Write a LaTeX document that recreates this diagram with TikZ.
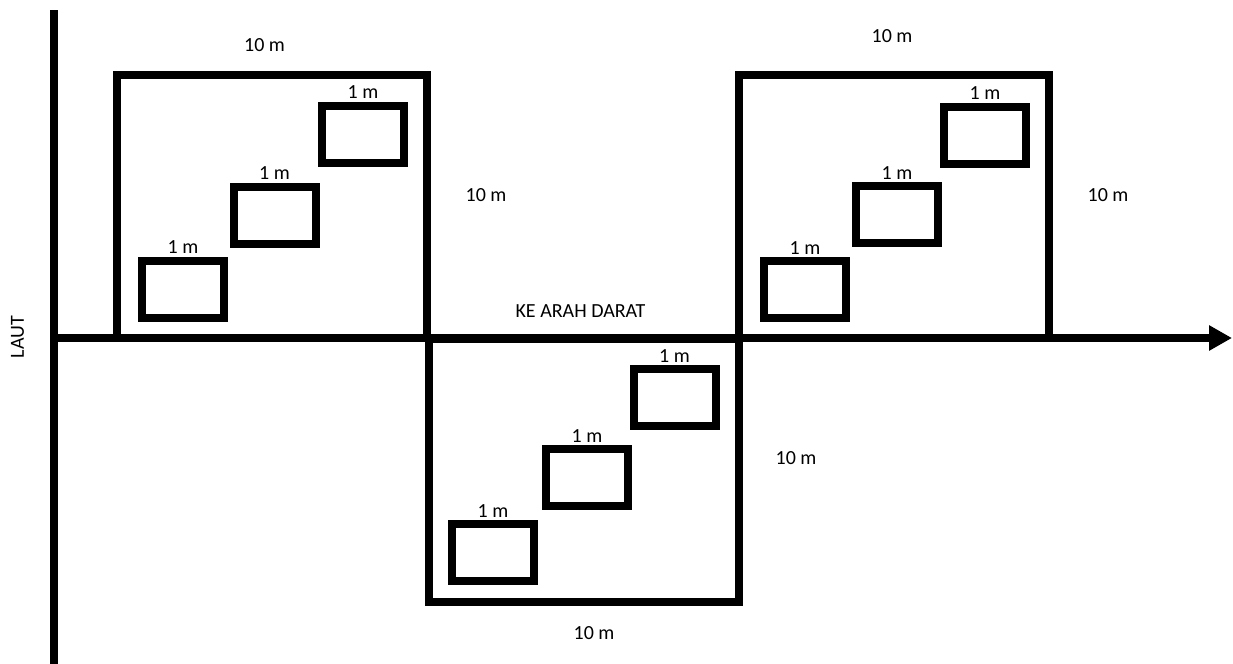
\documentclass[tikz,border=0pt]{standalone}
\usepackage{fontspec}
\setmainfont{Carlito}
\usetikzlibrary{arrows.meta,positioning}

\begin{document}
\begin{tikzpicture}[
  x=0.5pt,y=-0.5pt,
  every node/.style={font=\fontsize{10}{12}\selectfont},
  plotbox/.style={draw,line width=4pt,minimum width=155pt,minimum height=131.5pt,inner sep=0pt},
  quadbox/.style={draw,line width=4pt,minimum width=41pt,minimum height=28.5pt,inner sep=0pt,
                  label={[inner sep=1.5pt,outer sep=0pt]above:1 m}},
  axisline/.style={line width=4pt},
]
  \useasboundingbox (0,0) rectangle (1233,664);

  % Axes
  \coordinate (top) at (54,10);
  \coordinate (bottom) at (54,664);
  \coordinate (origin) at (54,338);
  \coordinate (land) at (1232,338);
  \draw[axisline] (top) -- (bottom);
  \draw[axisline,-{Triangle[length=11.5pt,width=12pt]}] (origin) -- (land);
  \node[rotate=90] (laut) at (17.5,337) {LAUT};
  \node (darat) at (580.5,311.5) {KE ARAH DARAT};

  % Plot 1 (upper left)
  \node[plotbox] (plotA) at (272,206.5) {};
  \node[quadbox] (qA1) at (183,289) {};
  \node[quadbox] (qA2) at (274.5,215) {};
  \node[quadbox] (qA3) at (363,134) {};
  \node (topA) at (264.5,45) {10 m};
  \node (sideA) at (486,195) {10 m};

  % Plot 2 (lower middle)
  \node[plotbox] (plotB) at (584,470) {};
  \node[quadbox] (qB1) at (493,552.5) {};
  \node[quadbox] (qB2) at (587,477.5) {};
  \node[quadbox] (qB3) at (674.5,397.5) {};
  \node (sideB) at (796,458.5) {10 m};
  \node (botB) at (594,633) {10 m};

  % Plot 3 (upper right)
  \node[plotbox] (plotC) at (893.5,206.5) {};
  \node[quadbox] (qC1) at (805,289.5) {};
  \node[quadbox] (qC2) at (897,214.5) {};
  \node[quadbox] (qC3) at (985,135) {};
  \node (topC) at (892,36.5) {10 m};
  \node (sideC) at (1108,195) {10 m};
\end{tikzpicture}
\end{document}
